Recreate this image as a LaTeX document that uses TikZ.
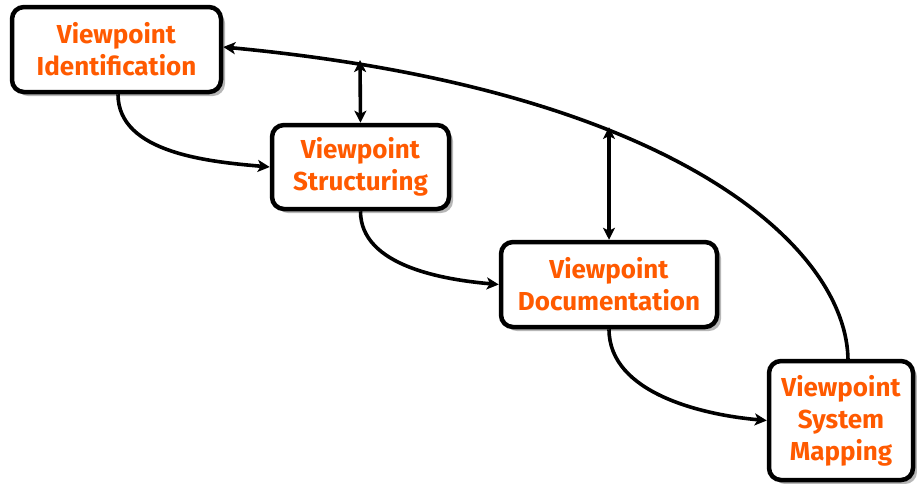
\documentclass[tikz,border=0pt]{standalone}
\usepackage{fontspec}
\setmainfont{Fira Sans}
\usetikzlibrary{shadows,arrows.meta}
\definecolor{vporange}{HTML}{FF5A00}
\begin{document}
\begin{tikzpicture}[x=1pt,y=-1pt,
  vpbox/.style={draw=black,line width=4.5pt,rounded corners=12pt,fill=white,
    align=center,inner sep=0pt,
    font=\fontsize{26}{32}\selectfont\bfseries,text=vporange,
    drop shadow={shadow xshift=4pt,shadow yshift=-4pt,fill=black!40,opacity=0.7}},
  tip/.tip={Stealth[length=12pt,width=12pt,inset=3pt]},
  conn/.style={line width=3.6pt,-tip},
  dconn/.style={line width=3.6pt,tip-tip}]
\useasboundingbox (0,0) rectangle (917,483);
\node[vpbox,minimum width=209pt,minimum height=85pt] (s1) at (116.5,49.5) {Viewpoint\\Identification};
\node[vpbox,minimum width=177pt,minimum height=84pt] (s2) at (360.5,167) {Viewpoint\\Structuring};
\node[vpbox,minimum width=216pt,minimum height=85pt] (s3) at (609,284.5) {Viewpoint\\Documentation};
\node[vpbox,minimum width=144pt,minimum height=119pt] (s4) at (841,420.5) {Viewpoint\\System\\Mapping};
\coordinate (s4top) at (848,361);
\coordinate (a1) at (360,60);
\coordinate (a2) at (609,127);
\draw[conn] (s4top) .. controls (848,250) and (680,90) .. (s1.east |- 0,47);
\draw[dconn] (a1) -- (s2.north);
\draw[dconn] (a2) -- (s3.north);
\draw[conn] (s1.south) ++(1.5,0) to[out=-90,in=175,looseness=0.9] (s2.west);
\draw[conn] (s2.south) to[out=-90,in=175,looseness=0.9] (s3.west);
\draw[conn] (s3.south) to[out=-90,in=175,looseness=0.9] (s4.west);
\end{tikzpicture}
\end{document}
